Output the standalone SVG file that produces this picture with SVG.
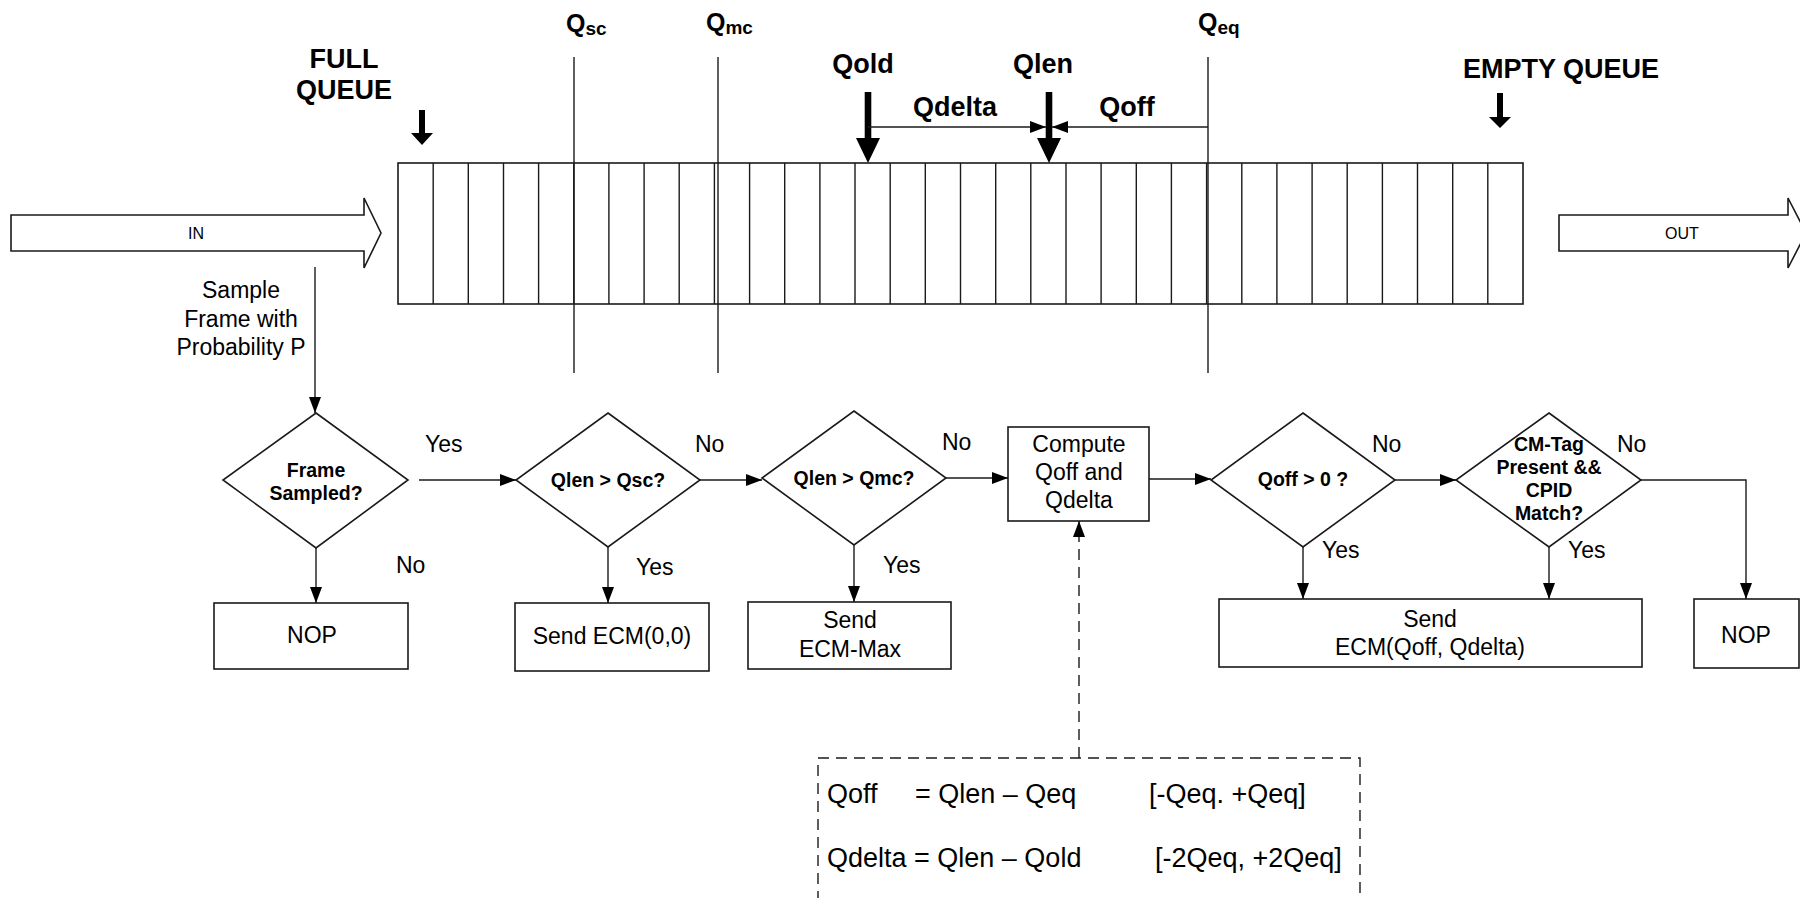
<svg xmlns="http://www.w3.org/2000/svg" width="1800" height="898" viewBox="0 0 1800 898">
<defs>
<style>
.ln{stroke:#1a1a1a;stroke-width:1.4;fill:none}
.bx{stroke:#1a1a1a;stroke-width:1.6;fill:#fff}
.dash{stroke:#1a1a1a;stroke-width:1.4;fill:none;stroke-dasharray:11 7}
.t{font-family:"Liberation Sans",Arial,sans-serif;fill:#000}
.r23{font-size:23px}
.b27{font-size:27px;font-weight:bold}
.b19{font-size:19.5px;font-weight:bold}
.m{text-anchor:middle}
.thick{fill:#000}
</style>
<marker id="ah" markerUnits="userSpaceOnUse" markerWidth="16" markerHeight="12" refX="16" refY="6" orient="auto">
<path d="M0,0 L16,6 L0,12 z" fill="#000"/>
</marker>
</defs>
<rect width="1800" height="898" fill="#fff"/>

<g id="in-arrow">
<polygon class="bx" points="11,215 364,215 364,198 381,233 364,268 364,251 11,251"/>
<text class="t m" x="196" y="239" font-size="16">IN</text>
</g>
<g id="out-arrow">
<polygon class="bx" points="1559,215 1788,215 1788,198 1806,233 1788,268 1788,251 1559,251"/>
<text class="t m" x="1682" y="239" font-size="16">OUT</text>
</g>

<g id="queue">
<rect class="bx" x="398" y="163" width="1125" height="141"/>
<path class="ln" d="M433.2,163V304M468.3,163V304M503.5,163V304M538.6,163V304M573.8,163V304M608.9,163V304M644.1,163V304M679.2,163V304M714.4,163V304M749.6,163V304M784.7,163V304M819.9,163V304M855,163V304M890.2,163V304M925.3,163V304M960.5,163V304M995.7,163V304M1030.8,163V304M1066,163V304M1101.1,163V304M1136.3,163V304M1171.4,163V304M1206.6,163V304M1241.8,163V304M1276.9,163V304M1312.1,163V304M1347.2,163V304M1382.4,163V304M1417.5,163V304M1452.7,163V304M1487.8,163V304"/>
</g>

<g id="thresholds">
<line class="ln" x1="574" y1="57" x2="574" y2="373"/>
<line class="ln" x1="718" y1="57" x2="718" y2="373"/>
<line class="ln" x1="1208" y1="57" x2="1208" y2="373"/>
<text class="t" x="566" y="32" font-size="25" font-weight="bold">Q<tspan font-size="19" dy="3">sc</tspan></text>
<text class="t" x="706" y="31" font-size="25" font-weight="bold">Q<tspan font-size="19" dy="3">mc</tspan></text>
<text class="t" x="1198" y="31" font-size="25" font-weight="bold">Q<tspan font-size="19" dy="3">eq</tspan></text>
</g>

<g id="full-queue">
<text class="t b27 m" x="344" y="68">FULL</text>
<text class="t b27 m" x="344" y="99">QUEUE</text>
<polygon class="thick" points="419,110 425,110 425,133 433,133 422,145 411,133 419,133"/>
</g>
<g id="empty-queue">
<text class="t b27 m" x="1561" y="78">EMPTY QUEUE</text>
<polygon class="thick" points="1497,93 1503,93 1503,117 1511,117 1500,128 1489,117 1497,117"/>
</g>

<g id="qold">
<text class="t b27 m" x="863" y="73">Qold</text>
<polygon class="thick" points="864.7,92 871.3,92 871.3,138 880,138 868,163 856,138 864.7,138"/>
</g>
<g id="qlen">
<text class="t b27 m" x="1043" y="73">Qlen</text>
<polygon class="thick" points="1045.7,92 1052.3,92 1052.3,138 1061,138 1049,163 1037,138 1045.7,138"/>
</g>
<g id="qdelta-label"><text class="t b27 m" x="955" y="116">Qdelta</text></g>
<g id="qoff-label"><text class="t b27 m" x="1127" y="116">Qoff</text></g>

<g id="sample-label">
<text class="t r23 m" x="241" y="298">Sample</text>
<text class="t r23 m" x="241" y="327">Frame with</text>
<text class="t r23 m" x="241" y="355">Probability P</text>
</g>

<g id="d1">
<polygon class="bx" points="316,413 408,480 316,548 223,480"/>
<text class="t b19 m" x="316" y="477">Frame</text>
<text class="t b19 m" x="316" y="500">Sampled?</text>
</g>
<g id="d2">
<polygon class="bx" points="608,413 700,480 608,547 516,480"/>
<text class="t b19 m" x="608" y="487">Qlen &gt; Qsc?</text>
</g>
<g id="d3">
<polygon class="bx" points="854,411 946,478 854,545 762,478"/>
<text class="t b19 m" x="854" y="485">Qlen &gt; Qmc?</text>
</g>
<g id="compute">
<rect class="bx" x="1008" y="427" width="141" height="94"/>
<text class="t r23 m" x="1079" y="452">Compute</text>
<text class="t r23 m" x="1079" y="480">Qoff and</text>
<text class="t r23 m" x="1079" y="508">Qdelta</text>
</g>
<g id="d4">
<polygon class="bx" points="1303,413 1395,480 1303,547 1211,480"/>
<text class="t b19 m" x="1303" y="486">Qoff &gt; 0 ?</text>
</g>
<g id="d5">
<polygon class="bx" points="1549,413 1641,480 1549,547 1456,480"/>
<text class="t b19 m" x="1549" y="451">CM-Tag</text>
<text class="t b19 m" x="1549" y="474">Present &amp;&amp;</text>
<text class="t b19 m" x="1549" y="497">CPID</text>
<text class="t b19 m" x="1549" y="520">Match?</text>
</g>

<g id="nop1">
<rect class="bx" x="214" y="603" width="194" height="66"/>
<text class="t r23 m" x="312" y="643">NOP</text>
</g>
<g id="send00">
<rect class="bx" x="515" y="603" width="194" height="68"/>
<text class="t r23 m" x="612" y="644">Send ECM(0,0)</text>
</g>
<g id="sendmax">
<rect class="bx" x="748" y="602" width="203" height="67"/>
<text class="t r23 m" x="850" y="628">Send</text>
<text class="t r23 m" x="850" y="657">ECM-Max</text>
</g>
<g id="sendq">
<rect class="bx" x="1219" y="599" width="423" height="68"/>
<text class="t r23 m" x="1430" y="627">Send</text>
<text class="t r23 m" x="1430" y="655">ECM(Qoff, Qdelta)</text>
</g>
<g id="nop2">
<rect class="bx" x="1694" y="599" width="105" height="69"/>
<text class="t r23 m" x="1746" y="643">NOP</text>
</g>

<g id="formula">
<rect class="dash" x="818" y="758" width="542" height="160"/>
<text class="t" x="827" y="803" font-size="27">Qoff</text>
<text class="t" x="915" y="803" font-size="27">= Qlen – Qeq</text>
<text class="t" x="1149" y="803" font-size="27">[-Qeq. +Qeq]</text>
<text class="t" x="827" y="867" font-size="27">Qdelta = Qlen – Qold</text>
<text class="t" x="1155" y="867" font-size="27">[-2Qeq, +2Qeq]</text>
</g>

<g id="connectors">
<line class="ln" x1="868" y1="127" x2="1046" y2="127" marker-end="url(#ah)"/>
<line class="ln" x1="1208" y1="127" x2="1052" y2="127" marker-end="url(#ah)"/>
<line class="ln" x1="315" y1="267" x2="315" y2="413" marker-end="url(#ah)"/>
<line class="ln" x1="419" y1="480" x2="516" y2="480" marker-end="url(#ah)"/>
<line class="ln" x1="316" y1="548" x2="316" y2="603" marker-end="url(#ah)"/>
<line class="ln" x1="700" y1="480" x2="762" y2="480" marker-end="url(#ah)"/>
<line class="ln" x1="608" y1="547" x2="608" y2="603" marker-end="url(#ah)"/>
<line class="ln" x1="946" y1="478" x2="1008" y2="478" marker-end="url(#ah)"/>
<line class="ln" x1="854" y1="545" x2="854" y2="602" marker-end="url(#ah)"/>
<line class="ln" x1="1149" y1="479" x2="1211" y2="479" marker-end="url(#ah)"/>
<line class="ln" x1="1395" y1="480" x2="1456" y2="480" marker-end="url(#ah)"/>
<line class="ln" x1="1303" y1="547" x2="1303" y2="599" marker-end="url(#ah)"/>
<polyline class="ln" points="1641,480 1746,480 1746,599" marker-end="url(#ah)"/>
<line class="ln" x1="1549" y1="547" x2="1549" y2="599" marker-end="url(#ah)"/>
<line class="dash" x1="1079" y1="758" x2="1079" y2="521" marker-end="url(#ah)"/>
<text class="t r23" x="425" y="452">Yes</text>
<text class="t r23" x="396" y="573">No</text>
<text class="t r23" x="695" y="452">No</text>
<text class="t r23" x="636" y="575">Yes</text>
<text class="t r23" x="942" y="450">No</text>
<text class="t r23" x="883" y="573">Yes</text>
<text class="t r23" x="1372" y="452">No</text>
<text class="t r23" x="1322" y="558">Yes</text>
<text class="t r23" x="1617" y="452">No</text>
<text class="t r23" x="1568" y="558">Yes</text>
</g>
</svg>
